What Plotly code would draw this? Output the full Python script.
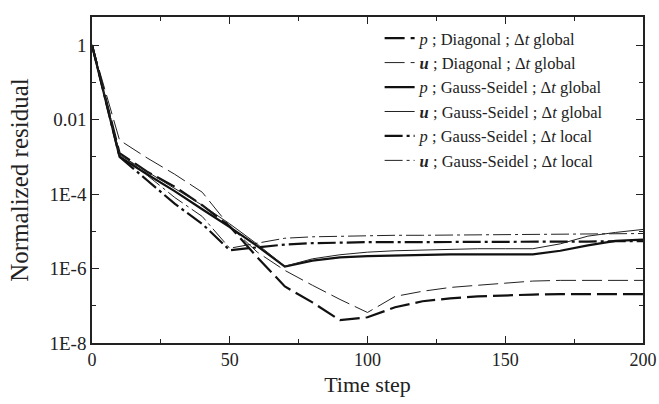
import plotly.graph_objects as go

# Time steps
steps = [0, 10, 20, 30, 40, 50, 60, 70, 80, 90, 100, 110, 120, 130, 140, 150, 160, 170, 180, 190, 200]

# Normalized residuals
p_diag_global = [1, 1.26e-3, 3.98e-4, 1.58e-4, 5.0e-5, 1.35e-5, 2.0e-6, 3.3e-7, 1.23e-7, 4.1e-8, 4.9e-8,
                 9.1e-8, 1.32e-7, 1.58e-7, 1.78e-7, 1.91e-7, 2.0e-7, 2.04e-7, 2.04e-7, 2.04e-7, 2.04e-7]
u_diag_global = [1, 2.8e-3, 9.3e-4, 3.4e-4, 1.12e-4, 1.35e-5, 2.75e-6, 8.9e-7, 3.55e-7, 1.48e-7, 6.6e-8,
                 1.78e-7, 2.45e-7, 3.1e-7, 3.55e-7, 4.0e-7, 4.6e-7, 4.8e-7, 4.8e-7, 4.8e-7, 4.8e-7]
p_gs_global = [1, 1.0e-3, 3.4e-4, 1.2e-4, 3.9e-5, 1.29e-5, 4.0e-6, 1.12e-6, 1.62e-6, 2.0e-6, 2.14e-6,
               2.24e-6, 2.34e-6, 2.4e-6, 2.4e-6, 2.4e-6, 2.4e-6, 3.0e-6, 4.2e-6, 5.5e-6, 6.0e-6]
u_gs_global = [1, 1.12e-3, 4.0e-4, 1.41e-4, 5.0e-5, 1.58e-5, 4.5e-6, 1.15e-6, 1.82e-6, 2.34e-6, 2.75e-6,
               3.0e-6, 3.16e-6, 3.3e-6, 3.4e-6, 3.4e-6, 3.4e-6, 4.6e-6, 7.4e-6, 9.3e-6, 1.12e-5]
p_gs_local = [1, 1.0e-3, 2.34e-4, 5.5e-5, 1.58e-5, 3.1e-6, 3.7e-6, 4.4e-6, 4.8e-6, 5.0e-6, 5.1e-6,
              5.1e-6, 5.1e-6, 5.1e-6, 5.2e-6, 5.2e-6, 5.2e-6, 5.3e-6, 5.3e-6, 5.4e-6, 5.4e-6]
u_gs_local = [1, 1.26e-3, 3.2e-4, 8.1e-5, 2.5e-5, 3.5e-6, 4.8e-6, 6.5e-6, 7.1e-6, 7.4e-6, 7.6e-6,
              7.8e-6, 7.8e-6, 7.9e-6, 8.0e-6, 8.0e-6, 8.1e-6, 8.3e-6, 8.5e-6, 8.7e-6, 8.7e-6]

series_names = [
    "<i>p</i> ; Diagonal ; Δ<i>t</i> global",
    "<b><i>u</i></b> ; Diagonal ; Δ<i>t</i> global",
    "<i>p</i> ; Gauss-Seidel ; Δ<i>t</i> global",
    "<b><i>u</i></b> ; Gauss-Seidel ; Δ<i>t</i> global",
    "<i>p</i> ; Gauss-Seidel ; Δ<i>t</i> local",
    "<b><i>u</i></b> ; Gauss-Seidel ; Δ<i>t</i> local",
]
series_values = [p_diag_global, u_diag_global, p_gs_global, u_gs_global, p_gs_local, u_gs_local]

y_tick_vals = [1, 1e-2, 1e-4, 1e-6, 1e-8]
y_tick_text = ["1", "0.01", "1E-4", "1E-6", "1E-8"]
y_minor_vals = [1e-1, 1e-3, 1e-5, 1e-7]
x_tick_vals = [0, 50, 100, 150, 200]
x_minor_vals = [25, 75, 125, 175]

styles = [
    dict(width=2.2, dash="20px,6px", color="#111"),
    dict(width=1.0, dash="20px,6px", color="#222"),
    dict(width=2.2, dash="solid", color="#111"),
    dict(width=1.0, dash="solid", color="#222"),
    dict(width=2.2, dash="18px,4px,3px,4px", color="#111"),
    dict(width=1.0, dash="18px,4px,3px,4px", color="#222"),
]

FONT = "Liberation Serif"
fig = go.Figure()
for name, vals, st in zip(series_names, series_values, styles):
    fig.add_trace(go.Scatter(x=steps, y=vals, mode="lines", name=name, line=st))

fig.update_layout(
    width=659, height=404,
    margin=dict(l=92, r=16, t=17, b=61),
    paper_bgcolor="white", plot_bgcolor="white",
    font=dict(family=FONT, color="#222"),
    showlegend=True,
    legend=dict(x=0.522, y=0.988, xanchor="left", yanchor="top",
                bgcolor="rgba(0,0,0,0)", font=dict(family=FONT, size=16.5, color="#222"),
                itemwidth=30, tracegroupgap=0),
)
fig.update_xaxes(
    range=[0, 200], tickmode="array", tickvals=x_tick_vals,
    ticks="inside", ticklen=7, tickwidth=1.2, tickcolor="#222",
    minor=dict(tickmode="array", tickvals=x_minor_vals, ticks="inside", ticklen=4, tickwidth=1.2, tickcolor="#222"),
    showline=True, linewidth=1.5, linecolor="#222", mirror="ticks",
    showgrid=False, zeroline=False, automargin=False, ticklabeloverflow="allow",
    tickfont=dict(family=FONT, size=18, color="#222"),
    title=dict(text="Time step", font=dict(family=FONT, size=22, color="#222"), standoff=7),
)
fig.update_yaxes(
    type="log", range=[-8, 0.753], tickmode="array", tickvals=y_tick_vals, ticktext=y_tick_text,
    ticks="inside", ticklen=7, tickwidth=1.2, tickcolor="#222",
    minor=dict(tickmode="array", tickvals=y_minor_vals, ticks="inside", ticklen=4, tickwidth=1.2, tickcolor="#222"),
    showline=True, linewidth=1.5, linecolor="#222", mirror="ticks",
    showgrid=False, zeroline=False, automargin=False,
    tickfont=dict(family=FONT, size=19, color="#222"),
    title=dict(text="Normalized residual", font=dict(family=FONT, size=25, color="#222"), standoff=14),
)

# remove the page's default body margin so the 659x404 figure fills the window exactly
fig.write_html(
    "out.html",
    config={"displayModeBar": False},
    post_script="document.body.style.margin='0';document.body.style.overflow='hidden';",
)
